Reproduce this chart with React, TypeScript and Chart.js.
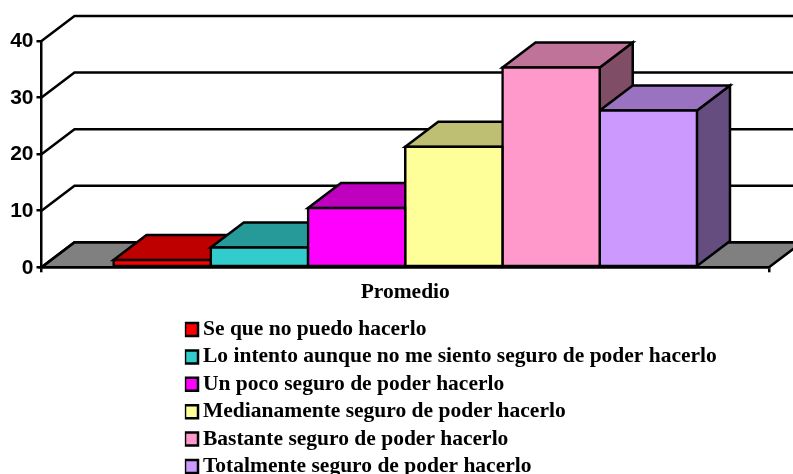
import React, { useEffect, useRef } from "react";
import { Chart, registerables } from "chart.js";

Chart.register(...registerables);

const categories = ["Promedio"];
const seriesNames = [
  "Se que no puedo hacerlo",
  "Lo intento aunque no me siento seguro de poder hacerlo",
  "Un poco seguro de poder hacerlo",
  "Medianamente seguro de poder hacerlo",
  "Bastante seguro de poder hacerlo",
  "Totalmente seguro de poder hacerlo",
];
const seriesValues = [1.3, 3.5, 10.5, 21.3, 35.3, 27.7];
const frontColors = ["#FF0000", "#33CCCC", "#FF00FF", "#FFFF99", "#FF99CC", "#CC99FF"];
const topColors = ["#BF0000", "#269999", "#BF00BF", "#BFBF73", "#BF7399", "#9973BF"];
const sideColors = ["#800000", "#1A6666", "#800080", "#80804D", "#804D66", "#664D80"];

const DX = 33;
const DY = -25;
const LINE = 2.5;

function poly(ctx: CanvasRenderingContext2D, pts: number[][], fill?: string) {
  ctx.beginPath();
  pts.forEach((p, i) => (i ? ctx.lineTo(p[0], p[1]) : ctx.moveTo(p[0], p[1])));
  ctx.closePath();
  if (fill) {
    ctx.fillStyle = fill;
    ctx.fill();
  }
  ctx.stroke();
}

const box3d = {
  id: "box3d",
  afterLayout(chart: any) {
    const l = chart.legend;
    l.left = 184.85;
    l.top = 312.85;
    l.right = 793;
    l.bottom = 520;
    l.width = l.right - l.left;
    l.height = l.bottom - l.top;
  },
  beforeDatasetsDraw(chart: any) {
    const { ctx, chartArea, scales } = chart;
    const y = scales.y;
    const L = chartArea.left;
    const R = chartArea.right;
    ctx.save();
    ctx.strokeStyle = "#000";
    ctx.lineWidth = LINE;
    ctx.lineJoin = "miter";
    const base = y.getPixelForValue(0);
    poly(ctx, [[L, base], [L + DX, base + DY], [R + DX, base + DY], [R, base]], "#808080");
    y.ticks.forEach((t: any) => {
      const py = y.getPixelForValue(t.value);
      ctx.beginPath();
      ctx.moveTo(L, py);
      ctx.lineTo(L + DX, py + DY);
      ctx.lineTo(R + DX, py + DY);
      ctx.stroke();
    });
    chart.data.datasets.forEach((_: any, i: number) => {
      const el = chart.getDatasetMeta(i).data[0];
      const x0 = el.x - el.width / 2;
      const x1 = el.x + el.width / 2;
      poly(ctx, [[x1, el.y], [x1 + DX, el.y + DY], [x1 + DX, el.base + DY], [x1, el.base]], sideColors[i]);
      poly(ctx, [[x0, el.y], [x0 + DX, el.y + DY], [x1 + DX, el.y + DY], [x1, el.y]], topColors[i]);
    });
    ctx.restore();
  },
};

export default function App() {
  const ref = useRef<HTMLCanvasElement>(null);
  useEffect(() => {
    const chart = new Chart(ref.current as HTMLCanvasElement, {
      type: "bar",
      data: {
        labels: categories,
        datasets: seriesNames.map((name, i) => ({
          label: name,
          data: [seriesValues[i]],
          backgroundColor: frontColors[i],
          borderColor: "#000",
          borderWidth: LINE,
          borderSkipped: false,
          inflateAmount: LINE / 2,
          clip: false,
          categoryPercentage: 0.802,
          barPercentage: 1,
        })),
      },
      plugins: [box3d],
      options: {
        animation: false,
        responsive: false,
        layout: { padding: { top: 41, bottom: 146.7, left: 0, right: 23 } },
        plugins: {
          title: { display: false },
          tooltip: { enabled: false },
          legend: {
            position: "right",
            align: "start",
            maxWidth: 1,
            labels: {
              color: "#000",
              font: { family: "'Liberation Serif'", weight: "bold", size: 21.5 },
              usePointStyle: true,
              pointStyle: "rect",
              boxWidth: 1.5,
              boxHeight: 13,
              padding: 5.9,
            },
          },
        },
        scales: {
          x: {
            afterFit(s: any) { s.height = 60; },
            grid: { drawOnChartArea: false, color: "#000", lineWidth: LINE, tickLength: 5 },
            border: { color: "#000", width: LINE },
            ticks: {
              color: "#000",
              padding: 7,
              font: { family: "'Liberation Serif'", weight: "bold", size: 21.5 },
            },
          },
          y: {
            min: 0,
            max: 40,
            afterFit(s: any) { s.width = 41.5; },
            grid: { drawOnChartArea: false, color: "#000", lineWidth: LINE, tickLength: 5 },
            border: { color: "#000", width: LINE },
            ticks: {
              stepSize: 10,
              color: "#000",
              padding: 3,
              labelOffset: 0.5,
              font: { family: "'Liberation Sans'", weight: "bold", size: 21 },
            },
          },
        },
      },
    } as any);
    return () => chart.destroy();
  }, []);
  return (
    <canvas
      ref={ref}
      width={793}
      height={474}
      style={{ position: "absolute", left: 0, top: 0, display: "block", width: 793, height: 474 }}
    />
  );
}
